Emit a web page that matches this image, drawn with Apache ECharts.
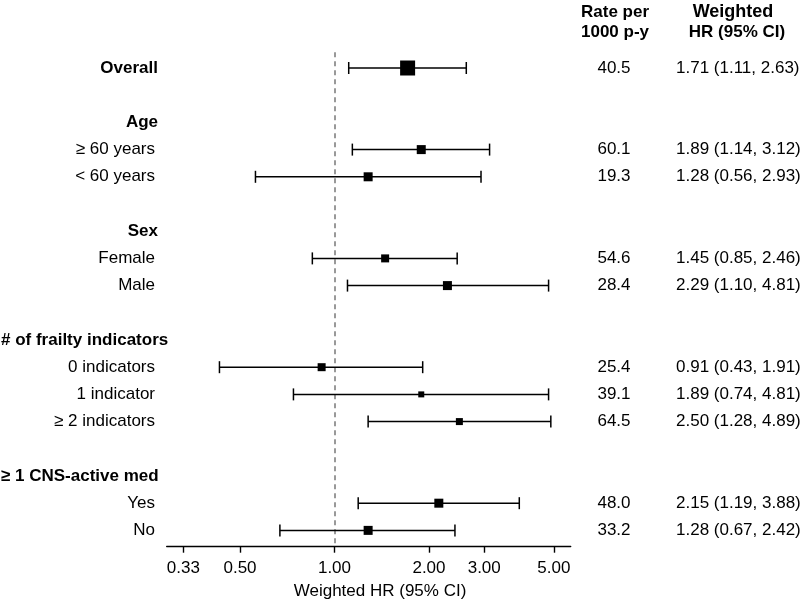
<!DOCTYPE html>
<html>
<head>
<meta charset="utf-8">
<script src="https://cdn.jsdelivr.net/npm/echarts@6/dist/echarts.min.js"></script>
<style>
html,body{margin:0;padding:0;background:#fff;}
#chart{width:802px;height:606px;}
</style>
</head>
<body>
<div id="chart"></div>
<script>
// ---- data ----
const rowLabels = ['Overall', '', 'Age', '\u2265 60 years', '< 60 years', '', 'Sex', 'Female', 'Male', '',
  '# of frailty indicators', '0 indicators', '1 indicator', '\u2265 2 indicators', '',
  '\u2265 1 CNS-active med', 'Yes', 'No'];
const rowIsHeader = [true, false, true, false, false, false, true, false, false, false,
  true, false, false, false, false, true, false, false];
const hrEst  = [1.71, null, null, 1.89, 1.28, null, null, 1.45, 2.29, null, null, 0.91, 1.89, 2.50, null, null, 2.15, 1.28];
const hrLow  = [1.11, null, null, 1.14, 0.56, null, null, 0.85, 1.10, null, null, 0.43, 0.74, 1.28, null, null, 1.19, 0.67];
const hrHigh = [2.63, null, null, 3.12, 2.93, null, null, 2.46, 4.81, null, null, 1.91, 4.81, 4.89, null, null, 3.88, 2.42];
const ratePer1000 = ['40.5', '', '', '60.1', '19.3', '', '', '54.6', '28.4', '', '', '25.4', '39.1', '64.5', '', '', '48.0', '33.2'];
const tickValues = [0.33, 0.50, 1.00, 2.00, 3.00, 5.00];
const colHeaders = [['Rate per', '1000 p-y'], ['Weighted', 'HR (95% CI)']];
const axisTitle = 'Weighted HR (95% CI)';

// ---- styles (separate from data) ----
const markerSize = [15, 0, 0, 9, 9, 0, 0, 8, 9, 0, 0, 8, 6, 7, 0, 0, 9, 9];
const FONT = '"Liberation Sans", Arial, Helvetica, sans-serif';

const ln = Math.log;
const fmtHR = i => hrEst[i].toFixed(2) + ' (' + hrLow[i].toFixed(2) + ', ' + hrHigh[i].toFixed(2) + ')';

const whiskerData = [];
const pointData = [];
hrEst.forEach((v, i) => {
  if (v == null) return;
  whiskerData.push([ln(hrLow[i]), ln(hrHigh[i]), i]);
  pointData.push({ value: [ln(v), i], symbolSize: markerSize[i] });
});

const chart = echarts.init(document.getElementById('chart'), null, { renderer: 'canvas' });

const option = {
  animation: false,
  backgroundColor: '#fff',
  grid: { left: 166.7, right: 802 - 570.7, top: 52.2, bottom: 606 - 546.7, containLabel: false },
  xAxis: {
    type: 'value',
    min: -1.231,
    max: 1.733,
    axisLine: { show: true, onZero: false, lineStyle: { color: '#000', width: 1.4 } },
    axisTick: { show: true, length: 6, lineStyle: { color: '#000', width: 1.4 },
      customValues: tickValues.map(v => ln(v)) },
    axisLabel: { show: true, color: '#000', fontSize: 17, fontFamily: FONT, margin: 13,
      customValues: tickValues.map(v => ln(v)),
      formatter: v => Math.exp(v).toFixed(2) },
    splitLine: { show: false }
  },
  yAxis: {
    type: 'value',
    inverse: true,
    min: -0.581,
    max: 17.6,
    show: false,
    splitLine: { show: false }
  },
  series: [
    {
      type: 'custom',
      silent: true,
      data: whiskerData,
      encode: { x: [0, 1], y: 2 },
      renderItem: function (params, api) {
        const p1 = api.coord([api.value(0), api.value(2)]);
        const p2 = api.coord([api.value(1), api.value(2)]);
        const cap = 6;
        const style = { stroke: '#000', lineWidth: 1.5 };
        return {
          type: 'group',
          children: [
            { type: 'line', shape: { x1: p1[0], y1: p1[1], x2: p2[0], y2: p2[1] }, style: style },
            { type: 'line', shape: { x1: p1[0], y1: p1[1] - cap, x2: p1[0], y2: p1[1] + cap }, style: style },
            { type: 'line', shape: { x1: p2[0], y1: p2[1] - cap, x2: p2[0], y2: p2[1] + cap }, style: style }
          ]
        };
      },
      z: 2
    },
    {
      type: 'scatter',
      symbol: 'rect',
      silent: true,
      data: pointData,
      itemStyle: { color: '#000', opacity: 1 },
      z: 3,
      markLine: {
        silent: true,
        symbol: 'none',
        label: { show: false },
        lineStyle: { color: '#808080', type: [5, 4], width: 1.6 },
        data: [{ xAxis: 0 }],
        z: 1
      }
    }
  ]
};
chart.setOption(option);

// text columns placed using the y scale
const graphics = [];
const textStyle = (t, x, y, align, bold, size) => ({
  type: 'text', x: x, y: y, silent: true,
  style: { text: t, align: align, verticalAlign: 'middle', fill: '#000',
    font: (bold ? 'bold ' : '') + size + 'px ' + FONT }
});
rowLabels.forEach((lab, i) => {
  const y = chart.convertToPixel({ yAxisIndex: 0 }, i);
  if (lab) {
    if (rowIsHeader[i]) {
      if (lab.length > 12) graphics.push(textStyle(lab, 1, y, 'left', true, 17));
      else graphics.push(textStyle(lab, 158, y, 'right', true, 17));
    } else {
      graphics.push(textStyle(lab, 155, y, 'right', false, 17));
    }
  }
  if (ratePer1000[i]) graphics.push(textStyle(ratePer1000[i], 614, y, 'center', false, 17));
  if (hrEst[i] != null) graphics.push(textStyle(fmtHR(i), 676, y, 'left', false, 17));
});
graphics.push(textStyle(colHeaders[0][0], 615, 12, 'center', true, 17));
graphics.push(textStyle(colHeaders[0][1], 615, 32, 'center', true, 17));
graphics.push(textStyle(colHeaders[1][0], 733, 12, 'center', true, 18));
graphics.push(textStyle(colHeaders[1][1], 737, 32, 'center', true, 17));
graphics.push(textStyle(axisTitle, 380, 591, 'center', false, 17));
chart.setOption({ graphic: graphics });
</script>
</body>
</html>
